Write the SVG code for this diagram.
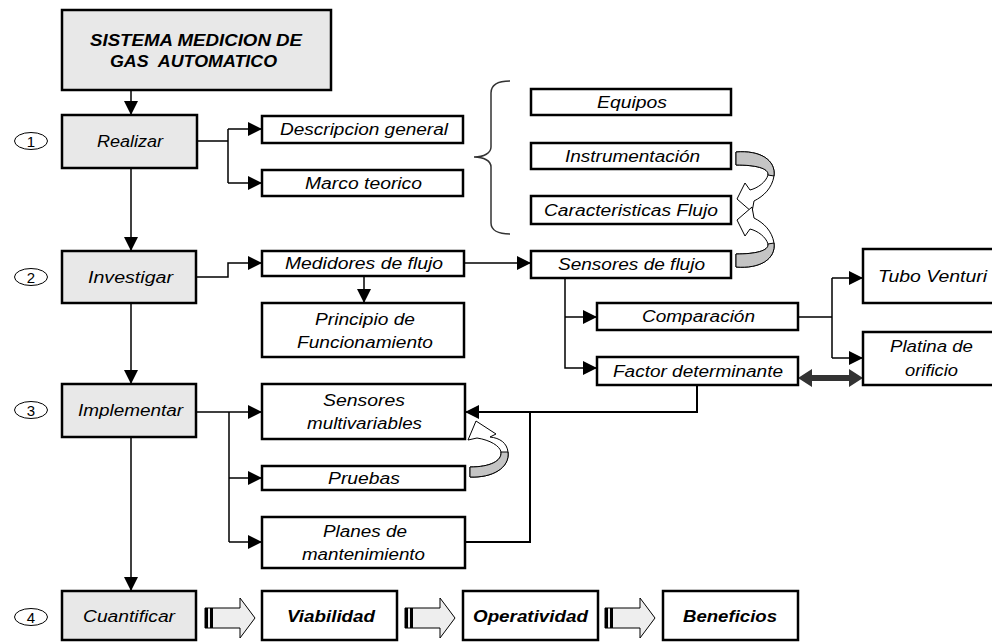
<svg xmlns="http://www.w3.org/2000/svg" width="992" height="642" viewBox="0 0 992 642">
<defs>
<marker id="ah" markerUnits="userSpaceOnUse" markerWidth="15" markerHeight="14" refX="14" refY="7" orient="auto">
<path d="M0,0 L14,7 L0,14 Z" fill="#000"/>
</marker>
<style>
.box{fill:#fff;stroke:#000;stroke-width:2.5}
.gbox{fill:#e8e8e8;stroke:#000;stroke-width:2.5}
.t{font-family:"Liberation Sans",Arial,sans-serif;font-size:16px;font-style:italic;fill:#000;text-anchor:middle}
.b{font-weight:bold}
.n{font-family:"Liberation Sans",Arial,sans-serif;font-size:15px;fill:#000;text-anchor:middle}
.c{fill:none;stroke:#000;stroke-width:1.5}
.ca{fill:none;stroke:#000;stroke-width:1.5;marker-end:url(#ah)}
.circ{fill:#fff;stroke:#000;stroke-width:1}
.curve{fill:#fff;stroke:#000;stroke-width:1}
.curveg{fill:#c4c4c4;stroke:#000;stroke-width:1}
.blk{fill:#eeeeee;stroke:#000;stroke-width:1}
</style>
</defs>
<rect width="992" height="642" fill="#fff"/>

<g id="connectors">
<path class="ca" d="M131,90 V115"/>
<path class="c" d="M197,141 H228 M228,129 V183"/>
<path class="ca" d="M228,129 H262"/>
<path class="ca" d="M228,183 H262"/>
<path class="ca" d="M131,168 V251"/>
<path class="ca" d="M196,277 H228 V263 H262"/>
<path class="ca" d="M364,276 V303"/>
<path class="ca" d="M464,263 H531"/>
<path class="ca" d="M565,278 V368 H597"/>
<path class="ca" d="M565,317 H597"/>
<path class="c" d="M798,317 H832 M832,278 V358"/>
<path class="ca" d="M832,278 H863"/>
<path class="ca" d="M832,358 H863"/>
<path class="ca" d="M131,303 V384"/>
<path class="c" d="M196,412 H229 M229,412 V542"/>
<path class="ca" d="M229,412 H262"/>
<path class="ca" d="M229,478 H262"/>
<path class="ca" d="M229,542 H262"/>
<path class="ca" style="stroke-width:2" d="M697,385 V412 H465"/>
<path class="c" style="stroke-width:2" d="M465,542 H530 V412"/>
<path class="ca" d="M131,437 V591"/>
<path d="M798,378 L812,369 L812,375 L849,375 L849,369 L863,378 L849,387 L849,381 L812,381 L812,387 Z" fill="#333"/>
<g id="curved1">
<path class="curve" d="M736,152 C760,150 776,160 774,176 C772,188 764,196 754,201 L752,212 L737,199 L745,183 L750,190 C758,188 766,182 768,175 C769,168 755,165 736,165 Z"/>
<path class="curveg" d="M736,152 C760,150 776,160 774,176 L768,175 C769,168 755,165 736,165 Z"/>
</g>
<g id="curved2" transform="translate(0,419) scale(1,-1)">
<path class="curve" d="M736,152 C760,150 776,160 774,176 C772,188 764,196 754,201 L752,212 L737,199 L745,183 L750,190 C758,188 766,182 768,175 C769,168 755,165 736,165 Z"/>
<path class="curveg" d="M736,152 C760,150 776,160 774,176 L768,175 C769,168 755,165 736,165 Z"/>
</g>
<g id="curved3">
<path class="curve" d="M470,477 C492,478 510,468 508,452 C507,443 500,438 490,437 L496,434 L476,421 L468,440 L477,438 C490,440 500,446 501,452 C502,461 490,467 470,467 Z"/>
<path class="curveg" d="M470,477 C492,478 510,468 508,452 L501,452 C502,461 490,467 470,467 Z"/>
</g>
<path d="M510,81 C498,81 491,85 491,93 L491,147 C491,153 484,157 474,157 C484,157 491,161 491,167 L491,223 C491,230 498,234 510,234" fill="none" stroke="#333" stroke-width="1.5"/>
<path class="blk" d="M205,608 L240,608 L240,598 L255,618 L240,638 L240,628 L205,628 Z"/>
<rect x="205" y="608" width="3" height="20"/><rect x="210" y="608" width="3" height="20"/>
<path class="blk" d="M405,608 L440,608 L440,598 L455,618 L440,638 L440,628 L405,628 Z"/>
<rect x="405" y="608" width="3" height="20"/><rect x="410" y="608" width="3" height="20"/>
<path class="blk" d="M605,608 L640,608 L640,598 L655,618 L640,638 L640,628 L605,628 Z"/>
<rect x="605" y="608" width="3" height="20"/><rect x="610" y="608" width="3" height="20"/>
</g>

<g id="title">
<rect class="gbox" x="62" y="10" width="269" height="80"/>
<text class="t b" x="196" y="46" style="font-size:17px" textLength="212" lengthAdjust="spacingAndGlyphs">SISTEMA MEDICION DE</text>
<text class="t b" x="193.5" y="67" style="font-size:17px;white-space:pre" textLength="167" lengthAdjust="spacingAndGlyphs">GAS  AUTOMATICO</text>
</g>

<g id="n1"><ellipse class="circ" cx="31" cy="141" rx="16.5" ry="8.5"/><text class="n" x="31" y="146.5">1</text></g>
<g id="n2"><ellipse class="circ" cx="31" cy="277" rx="16.5" ry="8.5"/><text class="n" x="31" y="282.5">2</text></g>
<g id="n3"><ellipse class="circ" cx="31" cy="410" rx="16.5" ry="8.5"/><text class="n" x="31" y="415.5">3</text></g>
<g id="n4"><ellipse class="circ" cx="31" cy="617" rx="16.5" ry="8.5"/><text class="n" x="31" y="622.5">4</text></g>

<g id="realizar"><rect class="gbox" x="62" y="115" width="135" height="53"/><text class="t" x="130" y="147" textLength="66" lengthAdjust="spacingAndGlyphs">Realizar</text></g>
<g id="descripcion"><rect class="box" x="262" y="116" width="201" height="27"/><text class="t" x="364" y="135" textLength="168" lengthAdjust="spacingAndGlyphs">Descripcion general</text></g>
<g id="marco"><rect class="box" x="262" y="170" width="201" height="26"/><text class="t" x="363.5" y="188.5" textLength="117" lengthAdjust="spacingAndGlyphs">Marco teorico</text></g>
<g id="equipos"><rect class="box" x="531" y="89" width="200" height="26"/><text class="t" x="632" y="107.5" textLength="70" lengthAdjust="spacingAndGlyphs">Equipos</text></g>
<g id="instrumentacion"><rect class="box" x="531" y="143" width="200" height="26"/><text class="t" x="632.5" y="161.5" textLength="135" lengthAdjust="spacingAndGlyphs">Instrumentación</text></g>
<g id="caracteristicas"><rect class="box" x="531" y="196" width="200" height="28"/><text class="t" x="631" y="215.5" textLength="174" lengthAdjust="spacingAndGlyphs">Caracteristicas Flujo</text></g>
<g id="sensoresflujo"><rect class="box" x="531" y="251" width="200" height="27"/><text class="t" x="631.5" y="270" textLength="147" lengthAdjust="spacingAndGlyphs">Sensores de flujo</text></g>
<g id="investigar"><rect class="gbox" x="62" y="251" width="134" height="52"/><text class="t" x="130.5" y="282.5" textLength="85" lengthAdjust="spacingAndGlyphs">Investigar</text></g>
<g id="medidores"><rect class="box" x="262" y="251" width="202" height="25"/><text class="t" x="364" y="269" textLength="158" lengthAdjust="spacingAndGlyphs">Medidores de flujo</text></g>
<g id="principio"><rect class="box" x="262" y="303" width="202" height="54"/><text class="t" x="365" y="324.5" textLength="100" lengthAdjust="spacingAndGlyphs">Principio de</text><text class="t" x="365" y="347.5" textLength="136" lengthAdjust="spacingAndGlyphs">Funcionamiento</text></g>
<g id="comparacion"><rect class="box" x="597" y="303" width="201" height="27"/><text class="t" x="698.5" y="322" textLength="113" lengthAdjust="spacingAndGlyphs">Comparación</text></g>
<g id="factor"><rect class="box" x="597" y="357" width="201" height="28"/><text class="t" x="698" y="376.5" textLength="170" lengthAdjust="spacingAndGlyphs">Factor determinante</text></g>
<g id="tubo"><rect class="box" x="863" y="249" width="140" height="54"/><text class="t" x="932.5" y="281.5" textLength="109" lengthAdjust="spacingAndGlyphs">Tubo Venturi</text></g>
<g id="platina"><rect class="box" x="863" y="332" width="140" height="53"/><text class="t" x="931.5" y="351.5" textLength="83" lengthAdjust="spacingAndGlyphs">Platina de</text><text class="t" x="931.5" y="375.5" textLength="53" lengthAdjust="spacingAndGlyphs">orificio</text></g>
<g id="implementar"><rect class="gbox" x="62" y="384" width="134" height="53"/><text class="t" x="130.5" y="416" textLength="105" lengthAdjust="spacingAndGlyphs">Implementar</text></g>
<g id="multivariables"><rect class="box" x="262" y="384" width="203" height="55"/><text class="t" x="364" y="405.5" textLength="82" lengthAdjust="spacingAndGlyphs">Sensores</text><text class="t" x="364.5" y="428.5" textLength="115" lengthAdjust="spacingAndGlyphs">multivariables</text></g>
<g id="pruebas"><rect class="box" x="262" y="466" width="203" height="24"/><text class="t" x="364" y="483.5" textLength="72" lengthAdjust="spacingAndGlyphs">Pruebas</text></g>
<g id="planes"><rect class="box" x="262" y="517" width="203" height="51"/><text class="t" x="365" y="536.5" textLength="84" lengthAdjust="spacingAndGlyphs">Planes de</text><text class="t" x="363.5" y="559.5" textLength="123" lengthAdjust="spacingAndGlyphs">mantenimiento</text></g>
<g id="cuantificar"><rect class="gbox" x="62" y="591" width="134" height="49"/><text class="t" x="129" y="621.5" textLength="92" lengthAdjust="spacingAndGlyphs">Cuantificar</text></g>
<g id="viabilidad"><rect class="box" x="262" y="591" width="135" height="49"/><text class="t b" x="331" y="621.5" textLength="88" lengthAdjust="spacingAndGlyphs">Viabilidad</text></g>
<g id="operatividad"><rect class="box" x="463" y="591" width="135" height="49"/><text class="t b" x="530.5" y="621.5" textLength="115" lengthAdjust="spacingAndGlyphs">Operatividad</text></g>
<g id="beneficios"><rect class="box" x="663" y="591" width="135" height="49"/><text class="t b" x="730" y="621.5" textLength="94" lengthAdjust="spacingAndGlyphs">Beneficios</text></g>
</svg>
